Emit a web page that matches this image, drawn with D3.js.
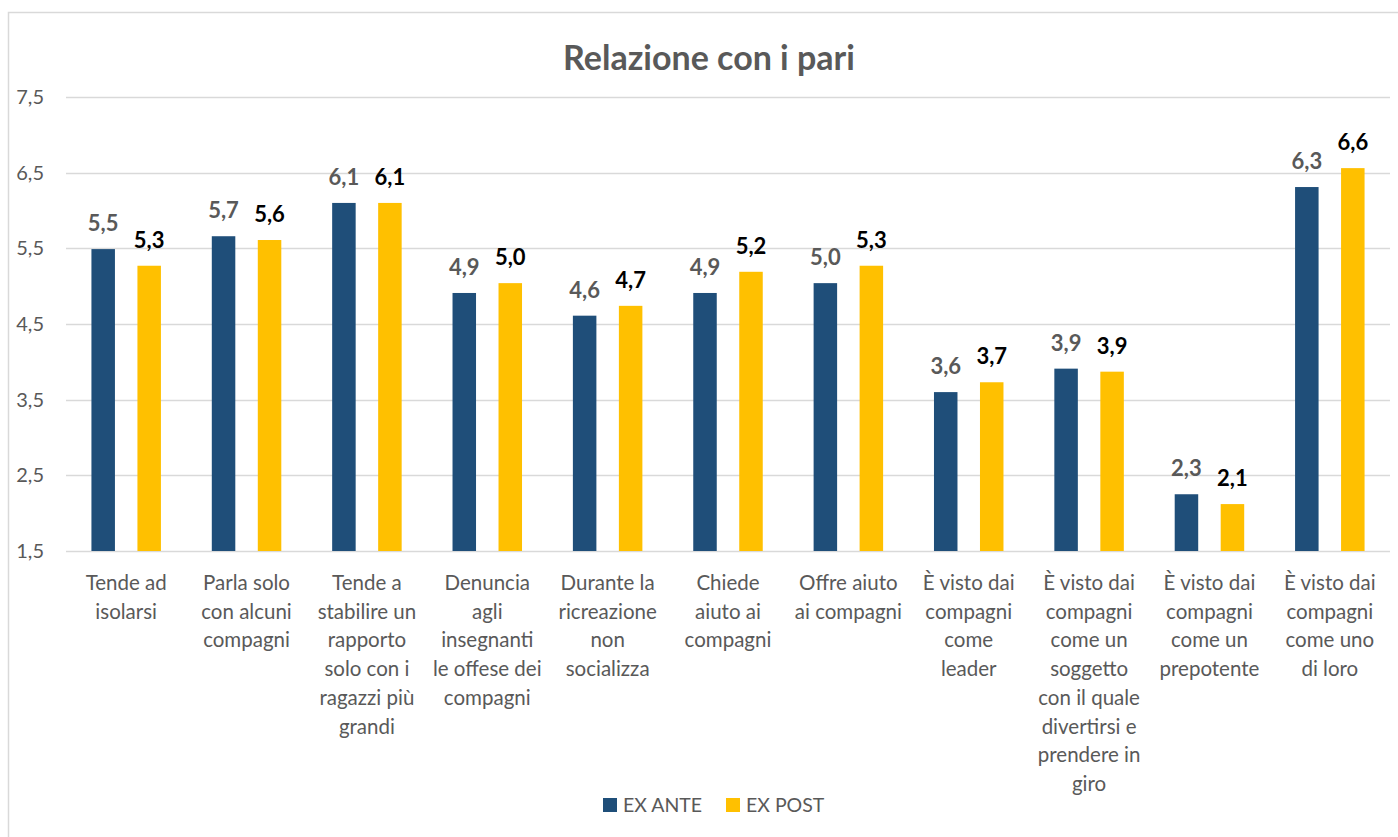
<!DOCTYPE html>
<html><head><meta charset="utf-8">
<script src="https://cdn.jsdelivr.net/npm/d3@7"></script>
<style>
html,body{margin:0;padding:0;background:#fff;}
svg text{font-family:Lato,"Open Sans",sans-serif;}
</style></head>
<body><svg id="chart" width="1398" height="837"></svg>
<script>
const categories = [
  ["Tende ad","isolarsi"],
  ["Parla solo","con alcuni","compagni"],
  ["Tende a","stabilire un","rapporto","solo con i","ragazzi più","grandi"],
  ["Denuncia","agli","insegnanti","le offese dei","compagni"],
  ["Durante la","ricreazione","non","socializza"],
  ["Chiede","aiuto ai","compagni"],
  ["Offre aiuto","ai compagni"],
  ["È visto dai","compagni","come","leader"],
  ["È visto dai","compagni","come un","soggetto","con il quale","divertirsi e","prendere in","giro"],
  ["È visto dai","compagni","come un","prepotente"],
  ["È visto dai","compagni","come uno","di loro"]
];
const exAnte = [5.49, 5.66, 6.10, 4.91, 4.61, 4.91, 5.04, 3.60, 3.91, 2.25, 6.31];
const exPost = [5.27, 5.61, 6.10, 5.04, 4.74, 5.19, 5.27, 3.73, 3.87, 2.12, 6.56];
const seriesNames = ["EX ANTE", "EX POST"];
const yTicks = [1.5, 2.5, 3.5, 4.5, 5.5, 6.5, 7.5];
const title = "Relazione con i pari";

const colors = ["#1F4E79", "#FFC000"];
const labelColors = ["#595959", "#000000"];
const svg = d3.select("#chart");
const fmt = v => d3.format(".1f")(v).replace(".", ",");

// outer border
svg.append("rect").attr("x", 8.5).attr("y", 12.5).attr("width", 1400).attr("height", 840)
  .attr("fill", "#fff").attr("stroke", "#d9d9d9").attr("stroke-width", 1.5);

const pLeft = 66, pRight = 1390, pTop = 97, pBottom = 551;
const x = d3.scaleBand().domain(d3.range(categories.length)).range([pLeft, pRight]).paddingInner(0).paddingOuter(0);
const y = d3.scaleLinear().domain([1.5, 7.5]).range([pBottom, pTop]);
const bw = x.bandwidth();
const x1 = d3.scaleBand().domain([0, 1]).range([bw / 2 - 34.75, bw / 2 + 34.75]).paddingInner(0.489).paddingOuter(0);

// gridlines
svg.append("g").selectAll("line").data(yTicks).join("line")
  .attr("x1", pLeft).attr("x2", pRight)
  .attr("y1", d => Math.round(y(d)) + 0.5).attr("y2", d => Math.round(y(d)) + 0.5)
  .attr("stroke", "#d9d9d9").attr("stroke-width", 1.5);

// y axis labels
const yAxis = d3.axisLeft(y).tickValues(yTicks).tickFormat(fmt).tickSize(0).tickPadding(0);
const ya = svg.append("g").attr("transform", `translate(44,0)`).call(yAxis);
ya.select(".domain").remove();
ya.selectAll("text").attr("font-size", 20).attr("fill", "#595959").attr("font-family", "Lato");

// bars
const series = [exAnte, exPost];
series.forEach((vals, s) => {
  const g = svg.append("g");
  g.selectAll("rect").data(vals).join("rect")
    .attr("x", (d, i) => x(i) + x1(s))
    .attr("width", x1.bandwidth())
    .attr("y", d => y(d))
    .attr("height", d => y(1.5) - y(d))
    .attr("fill", colors[s]);
  g.selectAll("text").data(vals).join("text")
    .attr("x", (d, i) => x(i) + x1(s) + x1.bandwidth() / 2)
    .attr("y", d => y(d) - 18)
    .attr("text-anchor", "middle")
    .attr("font-size", 22).attr("font-weight", "bold")
    .attr("fill", labelColors[s])
    .text(d => fmt(d));
});

// category labels
const cg = svg.append("g");
categories.forEach((lines, i) => {
  const t = cg.append("text").attr("text-anchor", "middle")
    .attr("font-size", 20.5).attr("fill", "#595959");
  lines.forEach((ln, k) => {
    t.append("tspan").attr("x", x(i) + bw / 2).attr("y", 590 + k * 28.7).text(ln);
  });
});

// title
svg.append("text").attr("x", 709).attr("y", 70).attr("text-anchor", "middle")
  .attr("font-size", 34).attr("font-weight", "bold").attr("fill", "#595959").text(title);

// legend
const lg = svg.append("g");
const legendX = [603, 726];
seriesNames.forEach((n, s) => {
  lg.append("rect").attr("x", legendX[s]).attr("y", 798).attr("width", 14).attr("height", 14).attr("fill", colors[s]);
  lg.append("text").attr("x", legendX[s] + 20).attr("y", 812).attr("font-size", 19.5).attr("fill", "#595959").text(n);
});
</script></body></html>
